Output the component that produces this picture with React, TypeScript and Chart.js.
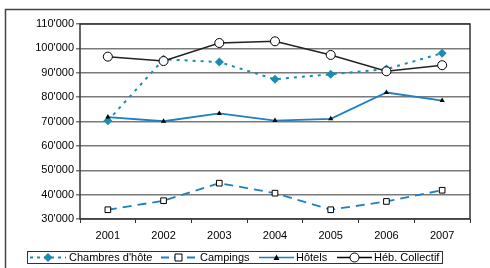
import React, { useEffect, useRef } from "react";
import { Chart, registerables } from "chart.js";

Chart.register(...registerables);

const years = ["2001", "2002", "2003", "2004", "2005", "2006", "2007"];
const chambres = [70300, 95500, 94400, 87300, 89400, 91500, 98000];
const campings = [33800, 37500, 44700, 40600, 33800, 37200, 41800];
const hotels = [71800, 70100, 73300, 70400, 71100, 81900, 78600];
const hebCollectif = [96600, 94800, 102200, 102900, 97300, 90600, 93100];
const seriesNames = ["Chambres d'hôte", "Campings", "Hôtels", "Héb. Collectif"];

const TEAL = "#1b8db3";
const BLUE = "#1f7fc1";
const FONT = "'Liberation Sans', Arial, sans-serif";

function drawMarker(ctx: CanvasRenderingContext2D, kind: string, x: number, y: number) {
  ctx.save();
  ctx.setLineDash([]);
  ctx.beginPath();
  if (kind === "diamond") {
    const r = 4.5;
    ctx.moveTo(x, y - r);
    ctx.lineTo(x + r, y);
    ctx.lineTo(x, y + r);
    ctx.lineTo(x - r, y);
    ctx.closePath();
    ctx.fillStyle = TEAL;
    ctx.fill();
  } else if (kind === "square") {
    ctx.rect(x - 3.5, y - 3.5, 7, 7);
    ctx.fillStyle = "#fff";
    ctx.fill();
    ctx.strokeStyle = "#000";
    ctx.lineWidth = 1;
    ctx.stroke();
  } else if (kind === "triangle") {
    ctx.moveTo(x, y - 3);
    ctx.lineTo(x + 3, y + 2.5);
    ctx.lineTo(x - 3, y + 2.5);
    ctx.closePath();
    ctx.fillStyle = "#000";
    ctx.fill();
  } else {
    ctx.arc(x, y, 4.5, 0, Math.PI * 2);
    ctx.fillStyle = "#fff";
    ctx.fill();
    ctx.strokeStyle = "#000";
    ctx.lineWidth = 1;
    ctx.stroke();
  }
  ctx.restore();
}

const framePlugin = {
  id: "framePlugin",
  beforeDraw(chart: any) {
    const ctx = chart.ctx;
    ctx.save();
    ctx.fillStyle = "#fff";
    ctx.fillRect(0, 0, chart.width, chart.height);
    ctx.strokeStyle = "#444";
    ctx.lineWidth = 1.5;
    ctx.beginPath();
    ctx.moveTo(5.5, chart.height + 5);
    ctx.lineTo(5.5, 9.5);
    ctx.lineTo(chart.width + 5, 9.5);
    ctx.stroke();
    ctx.restore();
  },
  afterDatasetsDraw(chart: any) {
    const ctx = chart.ctx;
    const a = chart.chartArea;
    ctx.save();
    ctx.strokeStyle = "#333";
    ctx.lineWidth = 1.5;
    ctx.strokeRect(a.left, a.top, a.right - a.left, a.bottom - a.top);
    ctx.restore();
  },
  afterDraw(chart: any) {
    const ctx = chart.ctx;
    ctx.save();
    // legend box
    ctx.strokeStyle = "#333";
    ctx.lineWidth = 1;
    ctx.strokeRect(27.5, 251.5, 415, 12);
    const y = 257.5;
    const items = [
      { x0: 30, x1: 66, m: "diamond", color: TEAL, dash: [3, 4], w: 2, tx: 69 },
      { x0: 161, x1: 196, m: "square", color: BLUE, dash: [8, 5], w: 2, tx: 200 },
      { x0: 259, x1: 294, m: "triangle", color: BLUE, dash: [], w: 1.5, tx: 296 },
      { x0: 337, x1: 372, m: "circle", color: "#000", dash: [], w: 1.5, tx: 374 },
    ];
    ctx.font = `11px ${FONT}`;
    ctx.textBaseline = "middle";
    ctx.textAlign = "left";
    items.forEach((it, i) => {
      ctx.beginPath();
      ctx.setLineDash(it.dash);
      ctx.strokeStyle = it.color;
      ctx.lineWidth = it.w;
      ctx.moveTo(it.x0, y);
      ctx.lineTo(it.x1, y);
      ctx.stroke();
      drawMarker(ctx, it.m, (it.x0 + it.x1) / 2, y);
      ctx.fillStyle = "#000";
      ctx.fillText(seriesNames[i], it.tx, y + 0.5);
    });
    ctx.restore();
  },
};

export default function App() {
  const ref = useRef<HTMLCanvasElement>(null);
  useEffect(() => {
    const diamondCanvas = ref.current!;
    const chart = new Chart(diamondCanvas, {
      type: "line",
      data: {
        labels: years,
        datasets: [
          {
            label: seriesNames[0],
            data: chambres,
            borderColor: TEAL,
            borderWidth: 2,
            borderDash: [3, 5],
            pointStyle: "rectRot",
            pointRadius: 4.5,
            pointBackgroundColor: TEAL,
            pointBorderColor: TEAL,
            pointBorderWidth: 0,
            order: 3,
          },
          {
            label: seriesNames[1],
            data: campings,
            borderColor: BLUE,
            borderWidth: 1.8,
            borderDash: [9, 6],
            pointStyle: "rect",
            pointRadius: 4,
            pointBackgroundColor: "#fff",
            pointBorderColor: "#000",
            pointBorderWidth: 1,
            order: 2,
          },
          {
            label: seriesNames[2],
            data: hotels,
            borderColor: BLUE,
            borderWidth: 1.8,
            pointStyle: "triangle",
            pointRadius: 3,
            pointBackgroundColor: "#000",
            pointBorderColor: "#000",
            pointBorderWidth: 0,
            order: 1,
          },
          {
            label: seriesNames[3],
            data: hebCollectif,
            borderColor: "#222",
            borderWidth: 1.5,
            pointStyle: "circle",
            pointRadius: 4.5,
            pointBackgroundColor: "#fff",
            pointBorderColor: "#000",
            pointBorderWidth: 1,
            order: 0,
          },
        ],
      },
      options: {
        responsive: false,
        animation: false,
        layout: { padding: { left: 0, right: 20, top: 24, bottom: 0 } },
        plugins: { legend: { display: false }, tooltip: { enabled: false } },
        scales: {
          x: {
            offset: true,
            grid: { offset: true, drawOnChartArea: false, drawTicks: true, tickLength: 4, color: "#333", lineWidth: 1 },
            border: { display: false },
            ticks: { color: "#000", font: { family: FONT, size: 11 }, padding: 6, maxRotation: 0 },
            afterFit(scale: any) {
              scale.height = 49;
            },
          },
          y: {
            min: 30000,
            max: 110000,
            grid: { color: "#7a7a7a", lineWidth: 1.5, tickLength: 4 },
            border: { display: false },
            ticks: {
              stepSize: 10000,
              color: "#000",
              font: { family: FONT, size: 11 },
              padding: 2,
              callback: (v: any) => {
                const n = Number(v);
                const th = Math.floor(n / 1000);
                return `${th}'000`;
              },
            },
            afterFit(scale: any) {
              scale.width = 80;
            },
          },
        },
      },
      plugins: [framePlugin],
    });
    return () => chart.destroy();
  }, []);
  return (
    <div style={{ position: "absolute", left: 0, top: 0, width: 490, height: 268 }}>
      <canvas ref={ref} width={490} height={268} style={{ display: "block" }} />
    </div>
  );
}
